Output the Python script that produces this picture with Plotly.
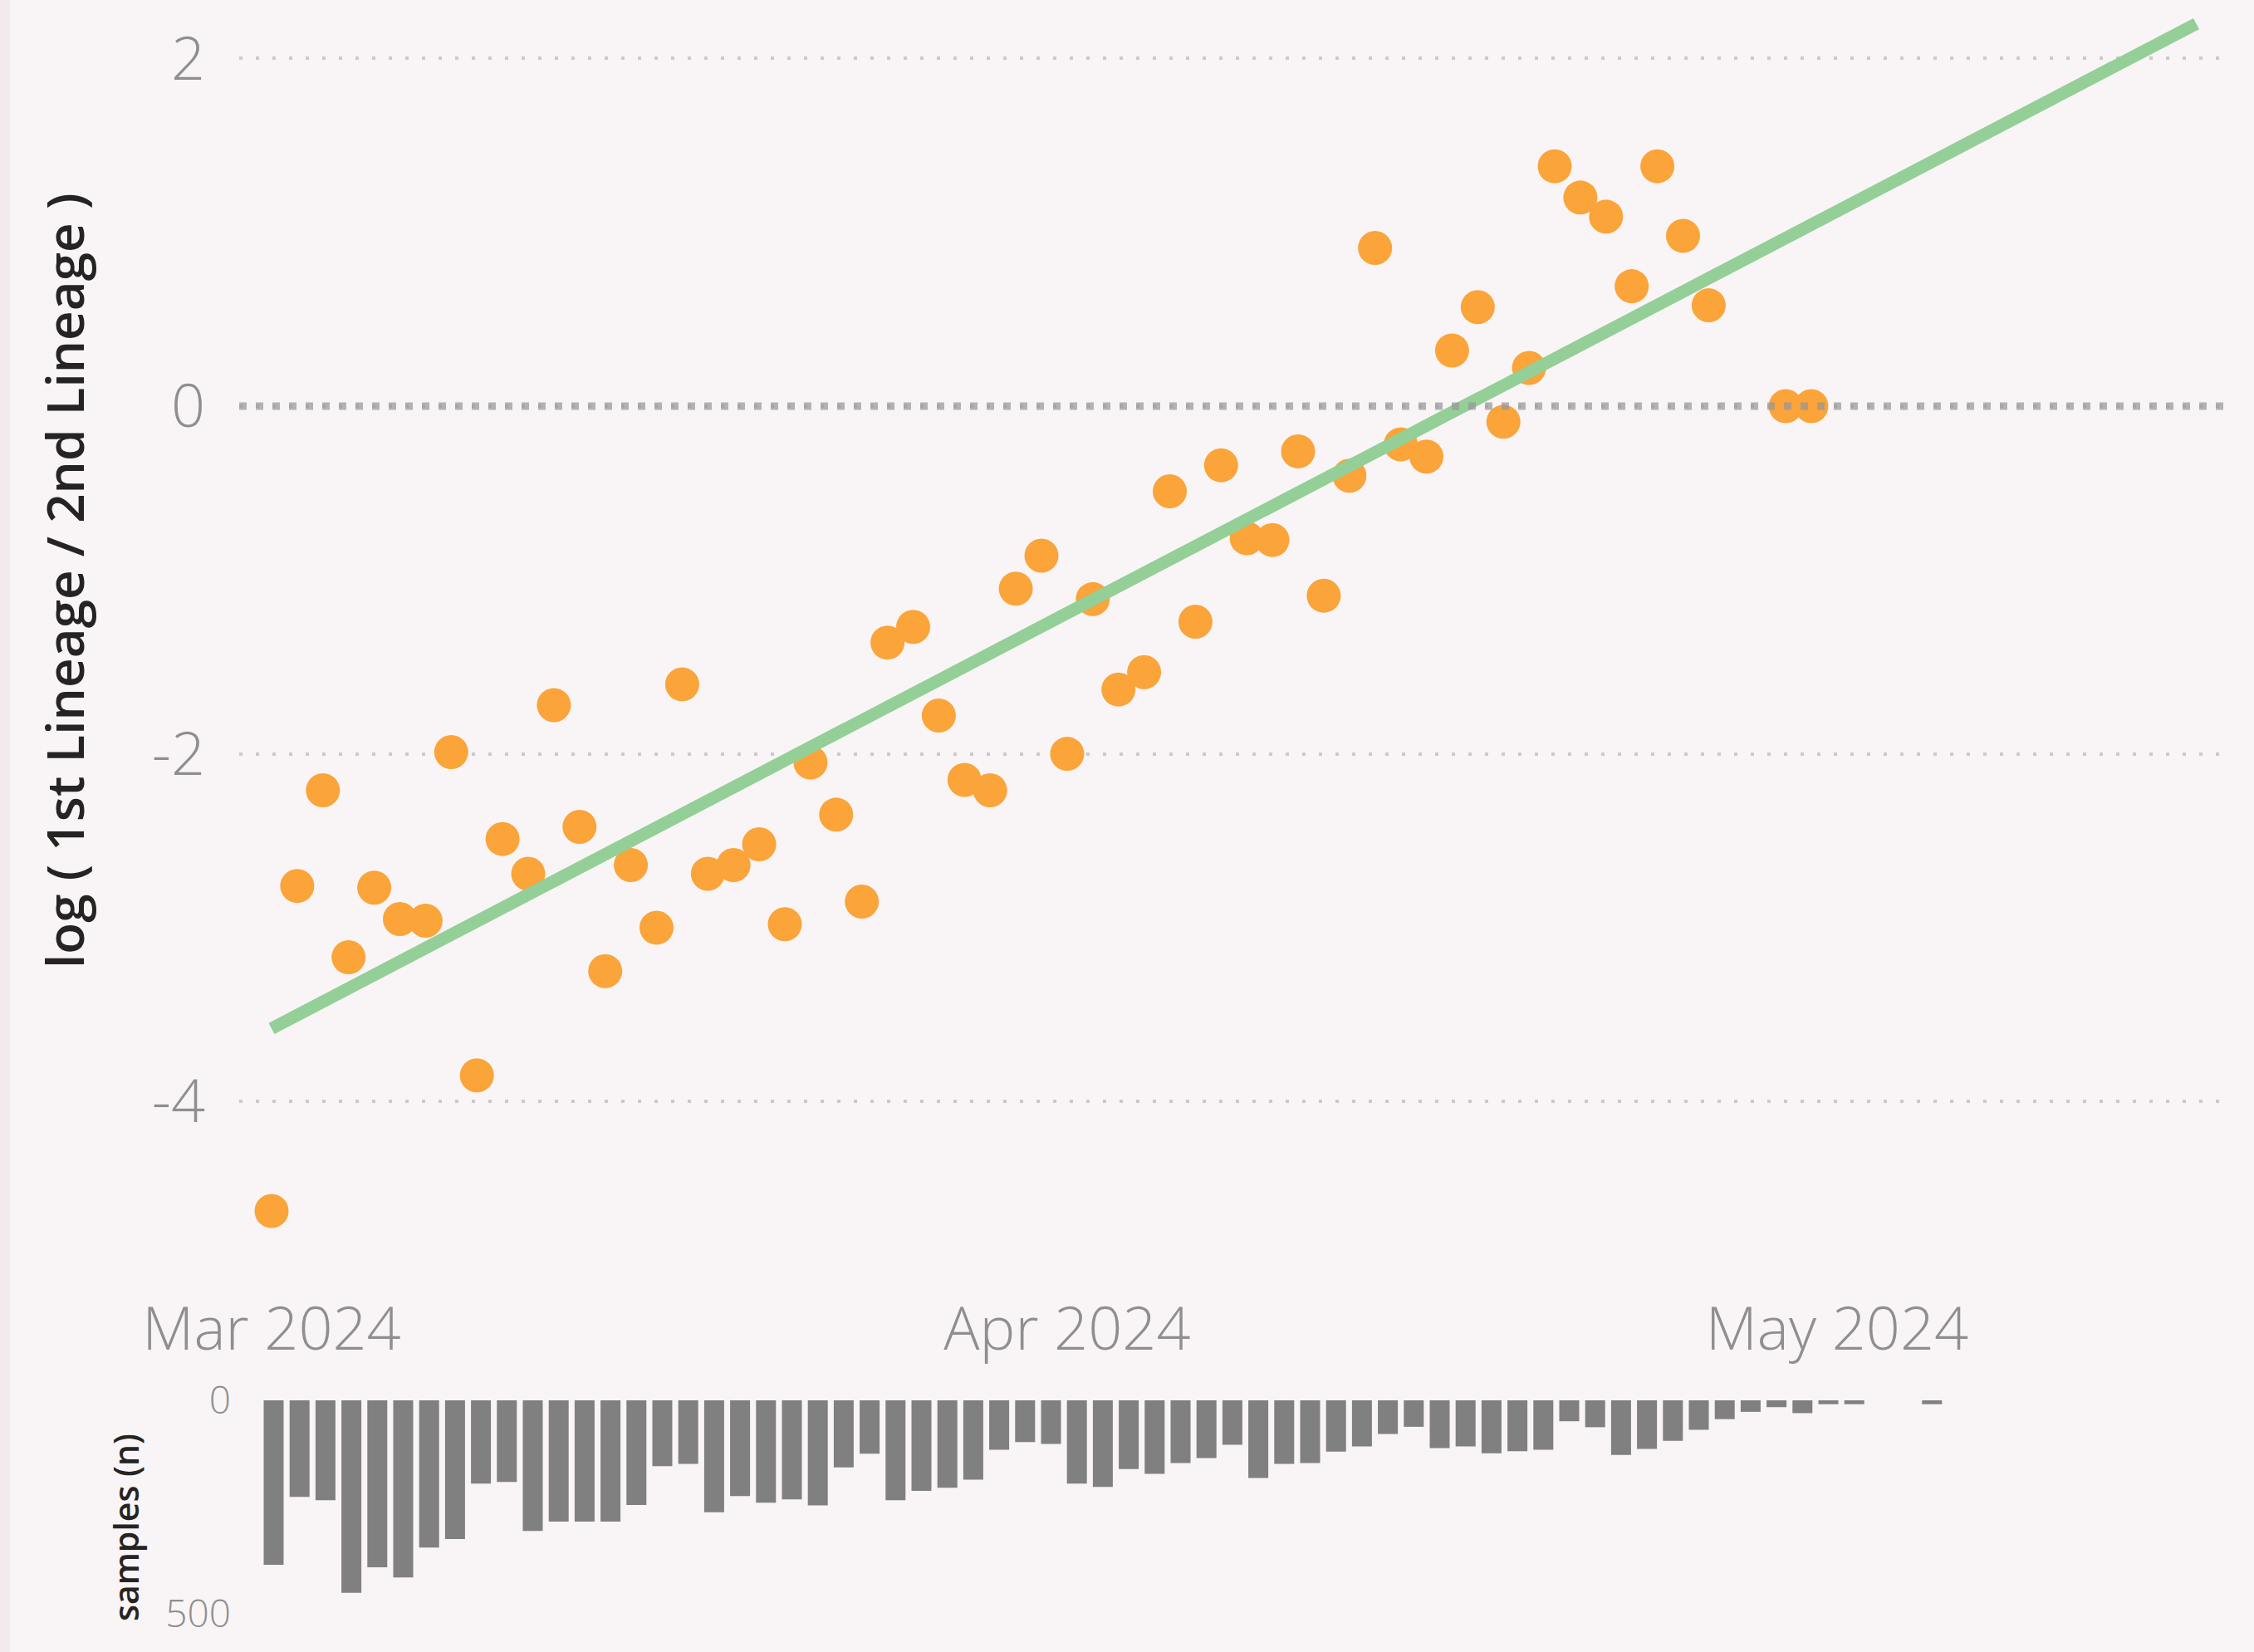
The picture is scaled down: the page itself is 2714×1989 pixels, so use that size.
import pandas as pd
import plotly.graph_objects as go

# ---------------- data ----------------
point_dates = list(pd.date_range("2024-03-01", "2024-04-26").strftime("%Y-%m-%d")) + ["2024-04-29", "2024-04-30"]
log_ratio = [-4.63, -2.76, -2.21, -3.17, -2.77, -2.95, -2.96, -1.99, -3.85, -2.49,
             -2.69, -1.72, -2.42, -3.25, -2.64, -3.00, -1.60, -2.69, -2.64, -2.52,
             -2.98, -2.05, -2.35, -2.85, -1.36, -1.27, -1.78, -2.15, -2.21, -1.05,
             -0.86,
             -2.00, -1.11, -1.63, -1.53, -0.49, -1.24, -0.34, -0.76, -0.77, -0.26,
             -1.09, -0.40, 0.91, -0.22, -0.29, 0.32, 0.57, -0.09, 0.22, 1.38,
             1.20, 1.09, 0.69, 1.38, 0.98, 0.58,
             0.00, 0.00]

trend_dates = ["2024-03-01", "2024-05-15"]
trend_values = [-3.58, 2.20]

bar_dates = list(pd.date_range("2024-03-01", "2024-05-01").strftime("%Y-%m-%d")) + ["2024-05-04"]
samples = [385, 226, 234, 451, 391, 415, 345, 325, 195, 191, 306, 284, 284, 284, 245, 154,
           149, 262, 224, 240, 232, 246, 157, 125, 234, 212, 205, 186, 116, 98, 102,
           195, 203, 161, 172, 147, 135, 104, 182, 149, 147, 120, 108, 79, 62, 112, 108,
           124, 119, 116, 49, 63, 128, 114, 95, 69, 44, 27, 16, 30, 9,
           9, 9]

x_tick_vals = ["2024-03-01", "2024-04-01", "2024-05-01"]
x_tick_text = ["Mar 2024", "Apr 2024", "May 2024"]
y_tick_vals = [-4, -2, 0, 2]
y_tick_text = ["-4", "-2", "0", "2"]
n_tick_vals = [0, 500]
n_tick_text = ["0", "500"]

# ---------------- layout geometry (pixels) ----------------
W, H = 2714, 1989
BG = "#F9F5F6"
GRAY_TXT = "#8f8f8f"
DARK_TXT = "#252423"

def px_x(p):
    return p / W

def px_y(p):
    return 1 - p / H

start = pd.Timestamp("2024-03-01")
day = pd.Timedelta(days=1)

# main plot
main_left, main_right = 288, 2680
main_top, main_bottom = 20, 1530
px_per_day_main = 30.9
first_day_px_main = 327
x_range_main = [start - day * ((first_day_px_main - main_left) / px_per_day_main),
                start + day * ((main_right - first_day_px_main) / px_per_day_main)]
zero_px, px_per_unit = 489.0, 209.3
y_range_main = [-(main_bottom - zero_px) / px_per_unit, (zero_px - main_top) / px_per_unit]

# bar plot
bar_left, bar_right = 317, 2677
bar_top, bar_bottom = 1686, 1943
px_per_day_bar = 31.2
first_day_px_bar = 329.5
x_range_bar = [start - day * ((first_day_px_bar - bar_left) / px_per_day_bar),
               start + day * ((bar_right - first_day_px_bar) / px_per_day_bar)]

fig = go.Figure()

fig.add_trace(go.Scatter(
    x=point_dates, y=log_ratio, mode="markers",
    marker=dict(size=41, color="#FAA43A", line=dict(width=0)),
    xaxis="x", yaxis="y", showlegend=False, hoverinfo="x+y"))

fig.add_trace(go.Scatter(
    x=trend_dates, y=trend_values, mode="lines",
    line=dict(color="#93CF97", width=15),
    xaxis="x", yaxis="y", showlegend=False))

fig.add_trace(go.Bar(
    x=bar_dates, y=samples, marker=dict(color="#808080", line=dict(width=0)),
    xaxis="x2", yaxis="y2", showlegend=False))

fig.update_layout(
    width=W, height=H,
    margin=dict(l=0, r=0, t=0, b=0, autoexpand=False),
    paper_bgcolor=BG, plot_bgcolor=BG,
    bargap=0.23,
    font=dict(family="Open Sans, sans-serif", color=GRAY_TXT),
    xaxis=dict(domain=[px_x(main_left), px_x(main_right)], type="date",
               range=x_range_main, tickvals=x_tick_vals, ticktext=x_tick_text,
               showgrid=False, zeroline=False, showline=False, ticks="",
               tickfont=dict(size=72, color=GRAY_TXT, weight=300),
               ticklabelstandoff=22, automargin=False),
    yaxis=dict(domain=[px_y(main_bottom), px_y(main_top)], range=y_range_main,
               tickvals=y_tick_vals, ticktext=y_tick_text,
               showgrid=True, gridcolor="#cdc9ca", gridwidth=4, griddash="4px,16px",
               zeroline=False, showline=False, ticks="",
               tickfont=dict(size=72, color=GRAY_TXT, weight=300),
               ticklabelstandoff=40, automargin=False),
    xaxis2=dict(domain=[px_x(bar_left), px_x(bar_right)], type="date",
                range=x_range_bar, showticklabels=False, showgrid=False,
                zeroline=False, showline=False, ticks="", anchor="y2", automargin=False),
    yaxis2=dict(domain=[px_y(bar_bottom), px_y(bar_top)], range=[500, 0],
                tickvals=n_tick_vals, ticktext=n_tick_text, anchor="x2",
                showgrid=True, gridcolor="#d2cecf", gridwidth=4, griddash="4px,16px",
                zeroline=False, showline=False, ticks="",
                tickfont=dict(size=46, color=GRAY_TXT, weight=300),
                ticklabelstandoff=38, automargin=False),
    shapes=[
        dict(type="rect", xref="paper", yref="paper", x0=0, x1=12 / W, y0=0, y1=1,
             fillcolor="#F3EAED", line=dict(width=0), layer="below"),
        dict(type="line", xref="paper", yref="y", x0=px_x(main_left), x1=px_x(main_right),
             y0=0, y1=0, line=dict(color="rgba(150,150,150,0.7)", width=9, dash="9px,11px"),
             layer="above"),
    ],
    annotations=[
        dict(text="log ( 1st Lineage / 2nd Lineage )", xref="paper", yref="paper",
             x=px_x(77), y=px_y(699), textangle=-90, showarrow=False,
             xanchor="center", yanchor="middle",
             font=dict(size=62, color=DARK_TXT, family="Open Sans, sans-serif", weight=600)),
        dict(text="samples (n)", xref="paper", yref="paper",
             x=px_x(151), y=px_y(1839), textangle=-90, showarrow=False,
             xanchor="center", yanchor="middle",
             font=dict(size=41, color=DARK_TXT, family="Open Sans, sans-serif", weight=600)),
    ],
)

fig.write_html("out.html", config={"displayModeBar": False},
               post_script="document.body.style.margin='0';document.body.style.overflow='hidden';")
